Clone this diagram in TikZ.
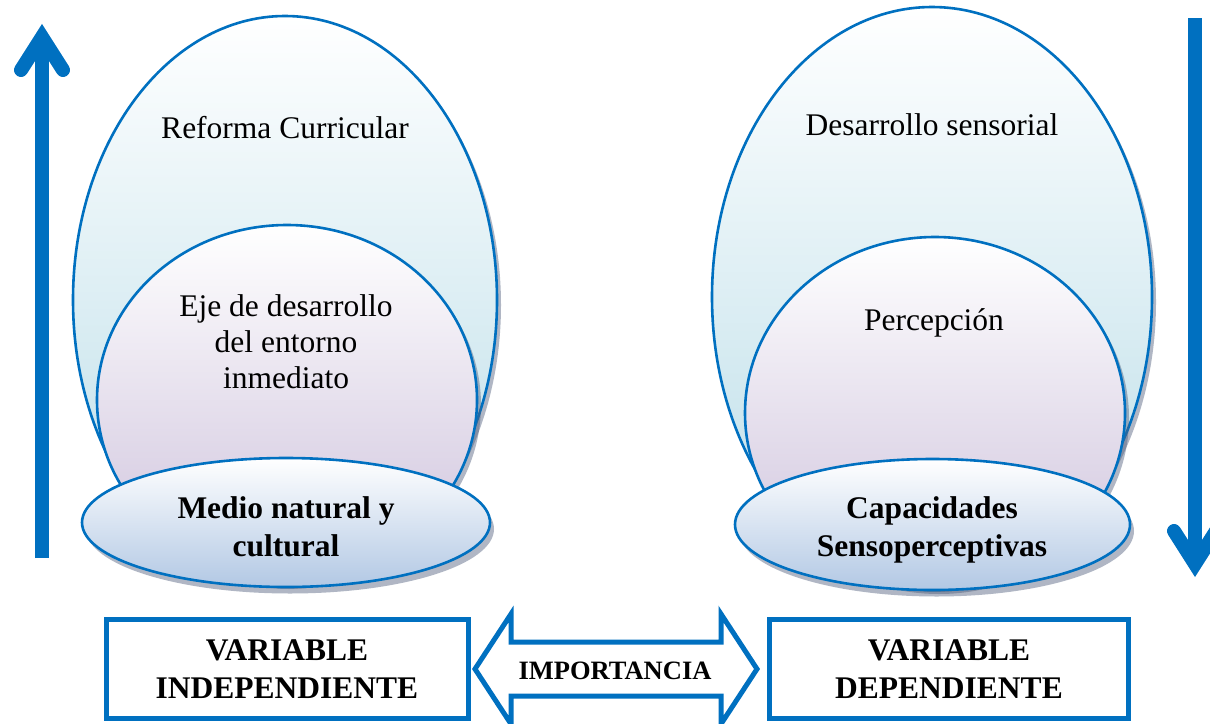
\documentclass[tikz,border=0pt]{standalone}
\usepackage{fontspec}
\setmainfont{Liberation Serif}
\usetikzlibrary{shapes.geometric}
\definecolor{mblue}{RGB}{0,112,192}
\definecolor{cyanlo}{RGB}{186,221,232}
\definecolor{lavlo}{RGB}{206,194,220}
\definecolor{steello}{RGB}{178,200,228}
\definecolor{shad}{RGB}{80,95,125}
\tikzset{
  ell/.style={draw=mblue, line width=2.6pt},
  shadowell/.style={fill=shad, opacity=0.45},
  lbl/.style={font=\fontsize{31.5}{36}\selectfont, align=center, inner sep=0pt},
  blbl/.style={font=\fontsize{31.5}{37.5}\selectfont\bfseries, align=center, inner sep=0pt},
  vbox/.style={draw=mblue, line width=5pt, fill=white},
  bigarrow/.style={draw=mblue, line width=14pt},
  arrowhead/.style={draw=mblue, line width=14pt, line cap=round, line join=miter},
}
\begin{document}
\begin{tikzpicture}[x=1pt,y=-1pt]
\useasboundingbox[fill=white] (0,0) rectangle (1210,723);

% ---------- left group ----------
\fill[shadowell] (289,305) ellipse [x radius=212, y radius=284];
\path[ell, top color=white, bottom color=cyanlo] (285,300) ellipse [x radius=212, y radius=284];
\fill[shadowell] (291,405) ellipse [x radius=190, y radius=175];
\path[ell, top color=white, bottom color=lavlo] (287,400) ellipse [x radius=190, y radius=175];
\fill[shadowell] (290,529) ellipse [x radius=204, y radius=64.5];
\path[ell, top color=white, bottom color=steello] (286,522.5) ellipse [x radius=204, y radius=64.5];

% ---------- right group ----------
\fill[shadowell] (936,302) ellipse [x radius=220, y radius=290];
\path[ell, top color=white, bottom color=cyanlo] (932,297) ellipse [x radius=220, y radius=290];
\fill[shadowell] (939,418) ellipse [x radius=190, y radius=176];
\path[ell, top color=white, bottom color=lavlo] (935,413) ellipse [x radius=190, y radius=176];
\fill[shadowell] (936.5,531) ellipse [x radius=197.5, y radius=65.5];
\path[ell, top color=white, bottom color=steello] (932.5,524.5) ellipse [x radius=197.5, y radius=65.5];

% ---------- labels ----------
\node[lbl, anchor=base] (rc) at (285,138) {Reforma Curricular};
\node[lbl] (eje) at (286,342) {Eje de desarrollo\\del entorno\\inmediato};
\node[blbl] (mnc) at (286,527) {Medio natural y\\cultural};
\node[lbl, anchor=base] (ds) at (932,135) {Desarrollo sensorial};
\node[lbl, anchor=base] (per) at (934,330) {Percepción};
\node[blbl] (cs) at (932,530) {Capacidades\\Sensoperceptivas};

% ---------- vertical arrows ----------
\draw[bigarrow] (42,558) -- (42,44);
\draw[arrowhead] (21,70) -- (42,37) -- (63,70);
\draw[bigarrow] (1195,18) -- (1195,558);
\draw[arrowhead] (1174,531) -- (1195,564) -- (1216,531);

% ---------- bottom boxes ----------
\node[vbox, blbl, minimum width=362pt, minimum height=99pt] (vi) at (287,669) {VARIABLE\\INDEPENDIENTE};
\node[vbox, blbl, minimum width=359pt, minimum height=99pt] (vd) at (949,669) {VARIABLE\\DEPENDIENTE};

% ---------- double arrow ----------
\draw[draw=mblue, fill=white, line width=5pt, line join=miter]
  (475,669) -- (511,614) -- (511,642) -- (721,642) -- (721,614) -- (757,669)
  -- (721,724) -- (721,696) -- (511,696) -- (511,724) -- cycle;
\node[font=\fontsize{26.5}{30}\selectfont\bfseries, inner sep=0pt, anchor=base] (imp) at (615,679) {IMPORTANCIA};
\end{tikzpicture}
\end{document}
